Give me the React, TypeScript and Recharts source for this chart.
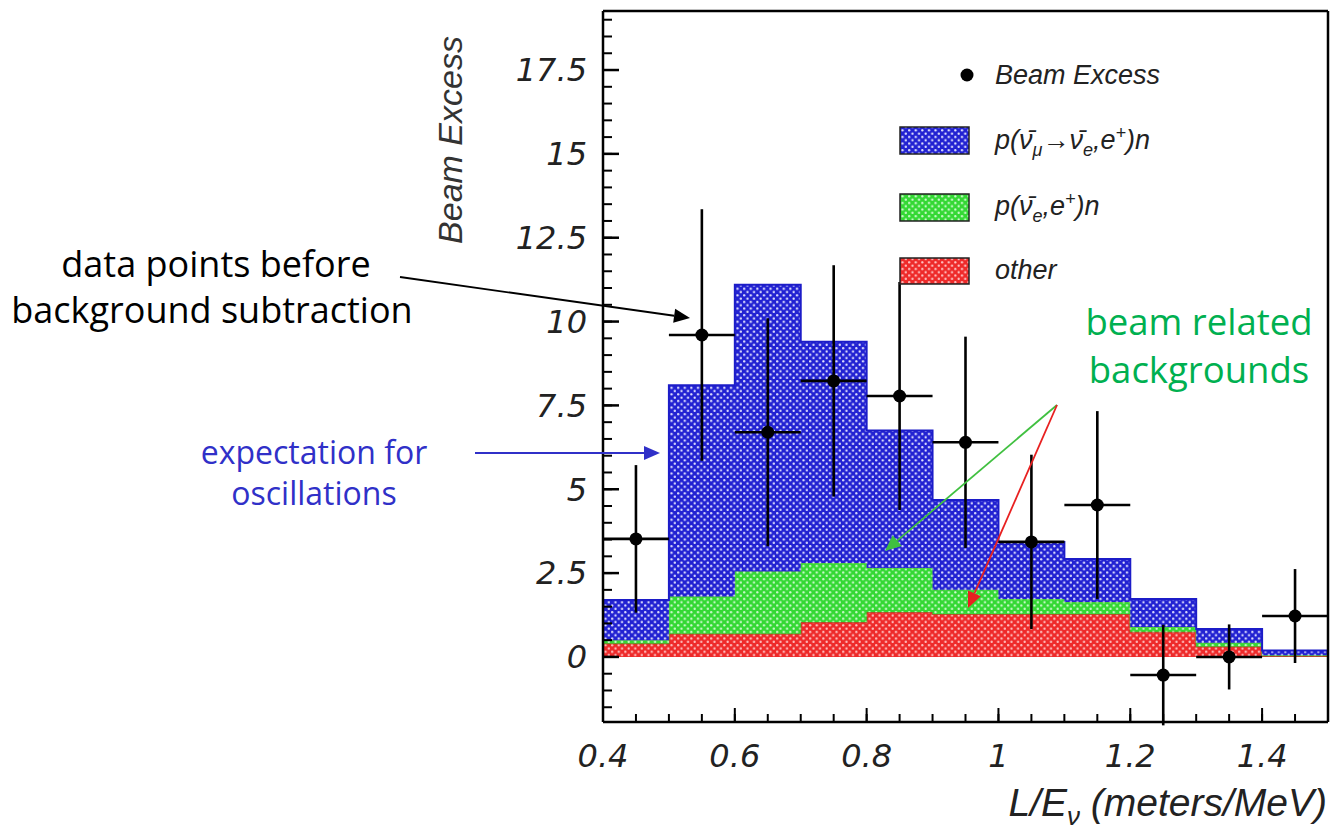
import {
  ComposedChart,
  Area,
  Scatter,
  ErrorBar,
  XAxis,
  YAxis,
} from 'recharts';

// histogram bins (lower edges), L/E in meters/MeV
const binEdges = [0.4, 0.5, 0.6, 0.7, 0.8, 0.9, 1.0, 1.1, 1.2, 1.3, 1.4, 1.5];
// stacked components per bin
const otherBg = [0.4, 0.69, 0.69, 1.04, 1.34, 1.28, 1.28, 1.28, 0.75, 0.31, 0.03];
const nueBg = [0.1, 1.11, 1.86, 1.76, 1.31, 0.72, 0.45, 0.36, 0.14, 0.11, 0.02];
const oscSignal = [1.2, 6.3, 8.55, 6.6, 4.1, 2.68, 1.7, 1.28, 0.84, 0.41, 0.14];

// beam excess data points
const pointX = [0.45, 0.55, 0.65, 0.75, 0.85, 0.95, 1.05, 1.15, 1.25, 1.35, 1.45];
const pointY = [3.52, 9.6, 6.7, 8.23, 7.78, 6.4, 3.43, 4.53, -0.54, 0.0, 1.22];
const pointErr = [2.2, 3.75, 3.4, 3.45, 3.4, 3.15, 2.6, 2.8, 1.5, 0.97, 1.4];
const binHalfWidth = 0.05;

const xTicks = [0.4, 0.6, 0.8, 1, 1.2, 1.4];
const yTicks = [0, 2.5, 5, 7.5, 10, 12.5, 15, 17.5];
const yMinor = [-1.5, -1, -0.5, 0, 0.5, 1, 1.5, 2, 2.5, 3, 3.5, 4, 4.5, 5, 5.5, 6, 6.5, 7, 7.5, 8, 8.5, 9, 9.5, 10, 10.5, 11, 11.5, 12, 12.5, 13, 13.5, 14, 14.5, 15, 15.5, 16, 16.5, 17, 17.5, 18, 18.5, 19];
const xMinor = [0.45, 0.5, 0.55, 0.6, 0.65, 0.7, 0.75, 0.8, 0.85, 0.9, 0.95, 1, 1.05, 1.1, 1.15, 1.2, 1.25, 1.3, 1.35, 1.4, 1.45];

const histData = binEdges.map((x, i) => {
  const k = Math.min(i, otherBg.length - 1);
  return { x, other: otherBg[k], nue: nueBg[k], osc: oscSignal[k] };
});

const pointData = pointX.map((x, i) => ({ x, y: pointY[i], ex: binHalfWidth, ey: pointErr[i] }));

const xDomain = [0.4, 1.5];
const yDomain = [-1.94, 19.26];

const tickFont = { fontFamily: 'DejaVu Sans', fontStyle: 'italic', fontSize: 32, fill: '#222' };

const NoLabel = () => <g />;

const Patterns = ({ p }: { p: string }) => (
  <>
    <pattern id={p + 'blue'} width="6.6" height="6.6" patternUnits="userSpaceOnUse">
      <rect width="6.6" height="6.6" fill="#2222d2" />
      <circle cx="1.65" cy="1.65" r="1.15" fill="#e4e4ff" />
      <circle cx="4.95" cy="4.95" r="1.15" fill="#e4e4ff" />
    </pattern>
    <pattern id={p + 'green'} width="6.6" height="6.6" patternUnits="userSpaceOnUse">
      <rect width="6.6" height="6.6" fill="#34d834" />
      <circle cx="1.65" cy="1.65" r="1.15" fill="#d0fad0" />
      <circle cx="4.95" cy="4.95" r="1.15" fill="#d0fad0" />
    </pattern>
    <pattern id={p + 'red'} width="6.6" height="6.6" patternUnits="userSpaceOnUse">
      <rect width="6.6" height="6.6" fill="#ee2a2a" />
      <circle cx="1.65" cy="1.65" r="1.15" fill="#ffc4c4" />
      <circle cx="4.95" cy="4.95" r="1.15" fill="#ffc4c4" />
    </pattern>
  </>
);

const Arrow = ({ x1, y1, x2, y2, color }: { x1: number; y1: number; x2: number; y2: number; color: string }) => {
  const a = Math.atan2(y2 - y1, x2 - x1);
  const L = 16;
  const W = 7;
  const bx = x2 - L * Math.cos(a);
  const by = y2 - L * Math.sin(a);
  const pts = `${x2},${y2} ${bx - W * Math.sin(a)},${by + W * Math.cos(a)} ${bx + W * Math.sin(a)},${by - W * Math.cos(a)}`;
  return (
    <g>
      <line x1={x1} y1={y1} x2={bx} y2={by} stroke={color} strokeWidth={1.8} />
      <polygon points={pts} fill={color} />
    </g>
  );
};

const Dot = (props: any) => <circle cx={props.cx} cy={props.cy} r={6.5} fill="#000" />;

const Overlay = () => {
  const lf = { fontFamily: 'Liberation Sans', fontStyle: 'italic', fontSize: 27, fill: '#222' };
  const sub = { fontSize: 18 };
  return (
    <svg width={1330} height={835} style={{ position: 'absolute', left: 0, top: 0, pointerEvents: 'none' }}>
      <defs>
        <Patterns p="lg-" />
      </defs>
      {/* axis titles */}
      <text transform="translate(462,140) rotate(-90)" textAnchor="middle" fontFamily="Liberation Sans" fontStyle="italic" fontSize={34} fill="#333">
        Beam Excess
      </text>
      <text x={1327} y={816} textAnchor="end" fontFamily="Liberation Sans" fontStyle="italic" fontSize={39} fill="#222">
        L/E<tspan dy={9} fontSize={26}>ν</tspan>
        <tspan dy={-9}> (meters/MeV)</tspan>
      </text>

      {/* legend */}
      <circle cx={967} cy={75} r={6.5} fill="#000" />
      <text x={995} y={84} {...lf}>Beam Excess</text>
      <rect x={900} y={127} width={69} height={27} fill="url(#lg-blue)" stroke="#222" strokeWidth={1.5} />
      <text x={995} y={149} {...lf}>
        p(ν̄<tspan dy={7} {...sub}>μ</tspan>
        <tspan dy={-7}>→ν̄</tspan>
        <tspan dy={7} {...sub}>e</tspan>
        <tspan dy={-7}>,e</tspan>
        <tspan dy={-10} {...sub}>+</tspan>
        <tspan dy={10}>)n</tspan>
      </text>
      <rect x={900} y={194} width={69} height={27} fill="url(#lg-green)" stroke="#222" strokeWidth={1.5} />
      <text x={995} y={215} {...lf}>
        p(ν̄<tspan dy={7} {...sub}>e</tspan>
        <tspan dy={-7}>,e</tspan>
        <tspan dy={-10} {...sub}>+</tspan>
        <tspan dy={10}>)n</tspan>
      </text>
      <rect x={900} y={258} width={69} height={26} fill="url(#lg-red)" stroke="#222" strokeWidth={1.5} />
      <text x={995} y={279} {...lf}>other</text>

      {/* annotations */}
      <g fontFamily="Open Sans">
        <text x={216} y={277} textAnchor="middle" fill="#000" fontSize={36}>data points before</text>
        <text x={212} y={323} textAnchor="middle" fill="#000" fontSize={36}>background subtraction</text>
        <text x={314} y={464} textAnchor="middle" fill="#3030c8" fontSize={32}>expectation for</text>
        <text x={314} y={505} textAnchor="middle" fill="#3030c8" fontSize={32}>oscillations</text>
        <text x={1199} y={335} textAnchor="middle" fill="#00b050" fontSize={36.5}>beam related</text>
        <text x={1199} y={383} textAnchor="middle" fill="#00b050" fontSize={36.5}>backgrounds</text>
      </g>
      <Arrow x1={400} y1={277} x2={690} y2={318} color="#000" />
      <Arrow x1={475} y1={453} x2={660} y2={453} color="#3030c8" />
      <Arrow x1={1057} y1={405} x2={885} y2={551} color="#40c040" />
      <Arrow x1={1057} y1={405} x2={968} y2={608} color="#e82020" />
    </svg>
  );
};

export default function App() {
  return (
    <div style={{ position: 'absolute', left: 0, top: 0, width: 1330, height: 835, background: '#fff' }}>
      <ComposedChart width={1330} height={835} data={histData} margin={{ top: 11, right: 2, bottom: 0, left: 0 }}>
        <defs>
          <Patterns p="ch-" />
        </defs>
        <XAxis
          dataKey="x"
          type="number"
          domain={xDomain}
          ticks={xTicks}
          interval={0}
          allowDataOverflow
          height={113}
          tickLine={false}
          tickSize={0}
          tickMargin={22}
          tick={tickFont}
          axisLine={{ stroke: '#000', strokeWidth: 2.5 }}
        />
        <XAxis xAxisId="xmaj" dataKey="x" type="number" domain={xDomain} ticks={xTicks} interval={0} allowDataOverflow mirror height={1} axisLine={false} tick={NoLabel} tickSize={14} tickLine={{ stroke: '#000', strokeWidth: 2 }} />
        <XAxis xAxisId="xmin" dataKey="x" type="number" domain={xDomain} ticks={xMinor} interval={0} allowDataOverflow mirror height={1} axisLine={false} tick={NoLabel} tickSize={7} tickLine={{ stroke: '#000', strokeWidth: 2 }} />
        <XAxis xAxisId="top" dataKey="x" orientation="top" type="number" domain={xDomain} allowDataOverflow mirror tick={false} tickLine={false} axisLine={{ stroke: '#000', strokeWidth: 2.5 }} />
        <YAxis
          type="number"
          domain={yDomain}
          ticks={yTicks}
          interval={0}
          allowDataOverflow
          width={603}
          tickLine={false}
          tickSize={0}
          tickMargin={16}
          tick={tickFont}
          axisLine={{ stroke: '#000', strokeWidth: 2.5 }}
        />
        <YAxis yAxisId="ymaj" type="number" domain={yDomain} ticks={yTicks} interval={0} allowDataOverflow mirror width={1} axisLine={false} tick={NoLabel} tickSize={16} tickLine={{ stroke: '#000', strokeWidth: 2.5 }} />
        <YAxis yAxisId="ymin" type="number" domain={yDomain} ticks={yMinor} interval={0} allowDataOverflow mirror width={1} axisLine={false} tick={NoLabel} tickSize={8} tickLine={{ stroke: '#000', strokeWidth: 2 }} />
        <YAxis yAxisId="right" orientation="right" type="number" domain={yDomain} allowDataOverflow mirror tick={false} tickLine={false} axisLine={{ stroke: '#000', strokeWidth: 2.5 }} />

        <Area type="stepAfter" dataKey="other" stackId="h" fill="url(#ch-red)" fillOpacity={1} stroke="#9a5a20" strokeWidth={1.5} isAnimationActive={false} />
        <Area type="stepAfter" dataKey="nue" stackId="h" fill="url(#ch-green)" fillOpacity={1} stroke="#58c048" strokeWidth={1} isAnimationActive={false} />
        <Area type="stepAfter" dataKey="osc" stackId="h" fill="url(#ch-blue)" fillOpacity={1} stroke="#1c1cc8" strokeWidth={2} isAnimationActive={false} />

        <Scatter data={pointData} dataKey="y" fill="#000" shape={Dot} isAnimationActive={false}>
          <ErrorBar dataKey="ey" direction="y" width={0} stroke="#000" strokeWidth={2.6} />
          <ErrorBar dataKey="ex" direction="x" width={0} stroke="#000" strokeWidth={2.6} />
        </Scatter>
      </ComposedChart>
      <Overlay />
    </div>
  );
}
